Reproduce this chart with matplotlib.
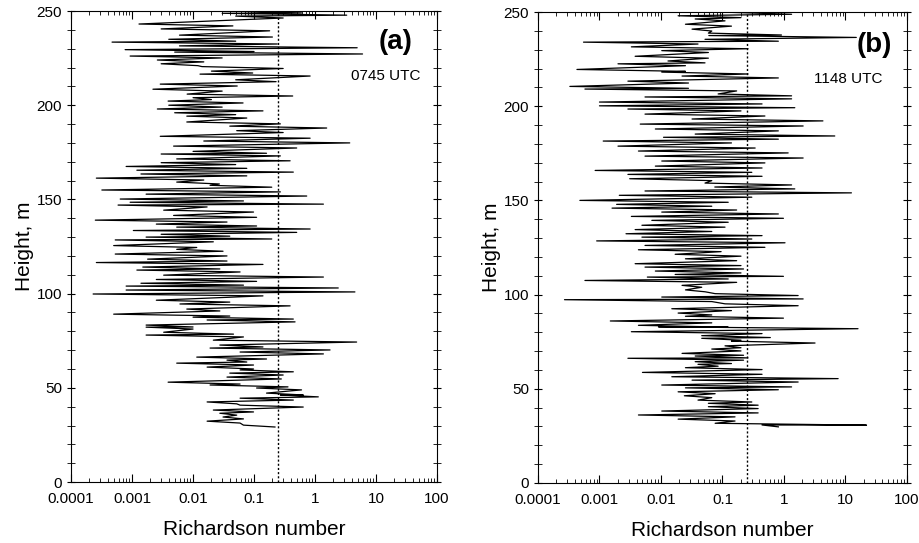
import numpy as np
import matplotlib
matplotlib.use("Agg")
import matplotlib.pyplot as plt
import matplotlib.ticker as ticker

plt.rcParams["font.family"] = ["Liberation Sans", "DejaVu Sans"]

RI_CRIT = 0.25

# panel (a) 0745 UTC: each row is one height with the low / high Ri of the zig-zag
height_a = [249.5, 248.3, 246.8, 242.6, 240.0, 236.7, 234.5, 233.0, 231.0, 229.0,
            227.7, 225.6, 223.5, 221.5, 220.0, 217.6, 216.0, 213.0, 210.7, 208.0,
            205.4, 203.5, 201.7, 199.5, 197.5, 195.5, 193.7, 190.6, 188.4, 186.0,
            183.0, 180.5, 177.8, 175.0, 173.6, 171.0, 169.0, 167.0, 165.0, 163.0,
            160.8, 158.7, 157.0, 154.5, 152.3, 149.7, 148.0, 146.5, 143.8, 141.0,
            138.5, 136.4, 134.8, 133.0, 131.0, 129.5, 128.0, 125.0, 123.0, 120.5,
            117.8, 116.0, 113.6, 112.0, 109.3, 107.0, 105.0, 103.5, 101.4, 99.3,
            96.0, 94.0, 91.3, 88.6, 87.0, 85.5, 82.8, 81.7, 79.0, 77.5,
            74.8, 72.2, 70.6, 68.5, 65.8, 64.2, 62.6, 60.5, 59.0, 57.3,
            55.2, 52.5, 51.0, 49.4, 46.7, 45.7, 44.0, 42.0, 40.3, 37.7,
            36.0, 34.0, 31.8, 29.7]
ri_lo_a = [0.04, 0.03, 0.05, 0.0013, 0.003, 0.006, 0.004, 0.00047, 0.006, 0.00077,
           0.005, 0.00093, 0.0026, 0.003, 0.014, 0.02, 0.013, 0.05, 0.0029, 0.0022,
           0.008, 0.01, 0.0039, 0.004, 0.0026, 0.005, 0.0079, 0.0079, 0.04, 0.052,
           0.0029, 0.015, 0.0048, 0.01, 0.003, 0.0054, 0.003, 0.0008, 0.0012, 0.0014,
           0.00026, 0.0054, 0.019, 0.00032, 0.0017, 0.00064, 0.00093, 0.00059, 0.0033, 0.0048,
           0.00025, 0.0025, 0.0054, 0.00105, 0.003, 0.0017, 0.00053, 0.0005, 0.0054, 0.00053,
           0.0018, 0.00026, 0.0015, 0.0012, 0.0033, 0.0025, 0.0014, 0.0008, 0.0008, 0.00023,
           0.0025, 0.0061, 0.0079, 0.0005, 0.01, 0.017, 0.0017, 0.0017, 0.0033, 0.0017,
           0.0215, 0.0275, 0.019, 0.059, 0.0115, 0.036, 0.0054, 0.017, 0.059, 0.04,
           0.036, 0.0039, 0.019, 0.11, 0.16, 0.27, 0.059, 0.017, 0.059, 0.0215,
           0.0275, 0.031, 0.017, 0.067]
ri_hi_a = [0.6, 3.3, 0.3, 0.045, 0.18, 0.2, 0.05, 0.24, 4.9, 0.1,
           6.0, 0.03, 0.015, 0.012, 0.3, 0.095, 0.83, 0.23, 0.053, 0.03,
           0.43, 0.02, 0.066, 0.03, 0.14, 0.05, 0.076, 0.27, 1.55, 0.3,
           0.83, 3.7, 0.5, 0.16, 0.27, 0.39, 0.05, 0.076, 0.44, 0.076,
           0.015, 0.027, 0.195, 0.27, 0.73, 0.067, 1.37, 0.017, 0.098, 0.11,
           0.036, 0.11, 0.83, 0.5, 0.04, 0.195, 0.0215, 0.0115, 0.031, 0.036,
           0.036, 0.14, 0.0275, 0.059, 1.37, 0.11, 0.067, 2.4, 4.5, 0.14,
           0.04, 0.39, 0.0275, 0.04, 0.44, 0.47, 0.01, 0.01, 0.046, 0.067,
           4.8, 0.14, 1.76, 1.37, 0.16, 0.076, 0.098, 0.098, 0.44, 0.3,
           0.28, 0.059, 0.36, 0.6, 0.64, 1.13, 0.44, 0.052, 0.64, 0.098,
           0.052, 0.067, 0.059, 0.22]

# panel (b) 1148 UTC
height_b = [249.3, 247.5, 245.8, 243.0, 240.4, 238.3, 237.0, 235.0, 233.5, 231.0,
            229.0, 226.0, 223.5, 222.0, 219.0, 217.6, 215.5, 212.8, 210.0, 208.6,
            206.0, 204.4, 201.7, 199.7, 198.0, 195.3, 192.7, 190.0, 187.4, 184.7,
            183.0, 181.0, 178.3, 175.7, 173.0, 170.4, 167.7, 165.4, 163.3, 161.0,
            158.7, 156.6, 154.5, 152.2, 149.5, 147.4, 145.4, 143.3, 141.0, 138.9,
            136.3, 134.0, 131.8, 130.0, 128.0, 125.6, 123.3, 120.9, 118.5, 115.9,
            114.1, 112.0, 110.2, 108.8, 107.0, 104.4, 102.0, 100.0, 98.2, 96.8,
            94.6, 92.0, 89.7, 88.0, 85.5, 83.2, 82.4, 79.8, 77.7, 76.3,
            74.8, 72.3, 70.6, 68.3, 66.9, 65.7, 63.9, 62.5, 60.7, 58.2,
            55.9, 54.1, 51.5, 50.0, 47.9, 45.8, 43.5, 41.8, 40.0, 37.7,
            35.6, 33.4, 31.2, 30.3]
ri_lo_b = [0.14, 0.019, 0.036, 0.025, 0.032, 0.059, 0.06, 0.052, 0.00055, 0.0033,
           0.0103, 0.0038, 0.013, 0.002, 0.00043, 0.0103, 0.022, 0.0029, 0.00033, 0.00058,
           0.085, 0.0055, 0.001, 0.001, 0.0029, 0.0055, 0.032, 0.0046, 0.0081, 0.036,
           0.011, 0.00115, 0.002, 0.0043, 0.0055, 0.0103, 0.0081, 0.00085, 0.0029, 0.0031,
           0.052, 0.075, 0.0055, 0.0021, 0.00048, 0.0019, 0.0016, 0.0103, 0.0033, 0.0071,
           0.0049, 0.0038, 0.0027, 0.0049, 0.0009, 0.0055, 0.0043, 0.017, 0.025, 0.0038,
           0.0055, 0.0081, 0.017, 0.006, 0.00058, 0.022, 0.025, 0.076, 0.0103, 0.00027,
           0.11, 0.015, 0.019, 0.025, 0.0015, 0.0043, 0.0091, 0.0033, 0.046, 0.046,
           0.14, 0.11, 0.067, 0.022, 0.036, 0.0029, 0.036, 0.04, 0.025, 0.005,
           0.015, 0.032, 0.0103, 0.025, 0.019, 0.024, 0.04, 0.059, 0.059, 0.0103,
           0.0043, 0.019, 0.076, 0.44]
ri_hi_b = [1.33, 0.2, 0.11, 0.14, 0.067, 0.91, 15.0, 0.81, 0.04, 0.26,
           0.059, 0.059, 0.052, 0.025, 0.025, 0.26, 0.81, 0.028, 0.028, 0.17,
           1.33, 1.33, 0.44, 1.5, 0.2, 0.49, 4.3, 2.05, 0.81, 6.7,
           0.81, 0.14, 0.34, 1.17, 2.05, 0.49, 0.44, 0.3, 0.44, 0.067,
           1.33, 1.5, 12.5, 0.3, 0.124, 0.067, 0.17, 0.81, 0.98, 0.124,
           0.11, 0.067, 0.44, 0.3, 1.04, 0.49, 0.095, 0.2, 0.17, 0.2,
           0.22, 0.2, 0.98, 0.124, 0.17, 0.046, 0.052, 1.7, 2.05, 0.067,
           1.7, 0.14, 0.067, 0.98, 0.067, 0.124, 16.0, 0.44, 0.6, 0.2,
           3.2, 0.2, 0.2, 0.22, 0.26, 0.22, 0.14, 0.085, 0.44, 0.44,
           7.6, 1.7, 1.33, 0.81, 0.076, 0.067, 0.3, 0.38, 0.38, 0.38,
           0.16, 0.16, 22.0, 0.81]


def zigzag(heights, lo, hi):
    # walk down the profile: low end a bit above each level, high end a bit below
    hs, rs = [], []
    for h, a, b in zip(heights, lo, hi):
        hs += [h + 0.5, h - 0.5]
        rs += [a, b]
    return np.array(rs), np.array(hs)


def draw_panel(ax, heights, lo, hi, tag, tag_xy, time_label, time_xy):
    ri, h = zigzag(heights, lo, hi)
    ax.plot(ri, h, color="black", linewidth=0.9)
    ax.plot([RI_CRIT, RI_CRIT], [0, 250], color="black", linestyle=(0, (1.5, 1.5)),
            linewidth=1.0)

    ax.set_xscale("log")
    ax.set_xlim(1e-4, 100)
    ax.set_ylim(0, 250)
    ax.xaxis.set_minor_locator(ticker.LogLocator(base=10, subs=np.arange(2, 10), numticks=10))
    ax.xaxis.set_minor_formatter(ticker.NullFormatter())
    ax.set_xticks([1e-4, 1e-3, 1e-2, 1e-1, 1, 10, 100])
    ax.set_xticklabels(["0.0001", "0.001", "0.01", "0.1", "1", "10", "100"])
    ax.yaxis.set_major_locator(ticker.MultipleLocator(50))
    ax.yaxis.set_minor_locator(ticker.MultipleLocator(10))

    ax.tick_params(axis="x", which="both", direction="in", top=True, labelsize=11, pad=7)
    ax.tick_params(axis="x", which="major", length=6)
    ax.tick_params(axis="x", which="minor", length=3)
    ax.tick_params(axis="y", which="both", direction="inout", right=True, length=6,
                   labelsize=11)

    ax.set_xlabel("Richardson number", fontsize=15, labelpad=10)
    ax.set_ylabel("Height, m", fontsize=15, labelpad=2)

    ax.text(tag_xy[0], tag_xy[1], tag, transform=ax.transAxes, fontsize=20,
            fontweight="bold", ha="right", va="center")
    ax.text(time_xy[0], time_xy[1], time_label, transform=ax.transAxes, fontsize=11,
            ha="right", va="center")


fig = plt.figure(figsize=(9.19, 5.43), dpi=100)
ax_a = fig.add_axes([0.0773, 0.1123, 0.3983, 0.8674])
ax_b = fig.add_axes([0.5854, 0.1105, 0.4015, 0.8674])

draw_panel(ax_a, height_a, ri_lo_a, ri_hi_a, "(a)", (0.932, 0.934), "0745 UTC", (0.956, 0.862))
draw_panel(ax_b, height_b, ri_lo_b, ri_hi_b, "(b)", (0.959, 0.93), "1148 UTC", (0.934, 0.858))

fig.savefig("out.png", dpi=100)
plt.close(fig)
